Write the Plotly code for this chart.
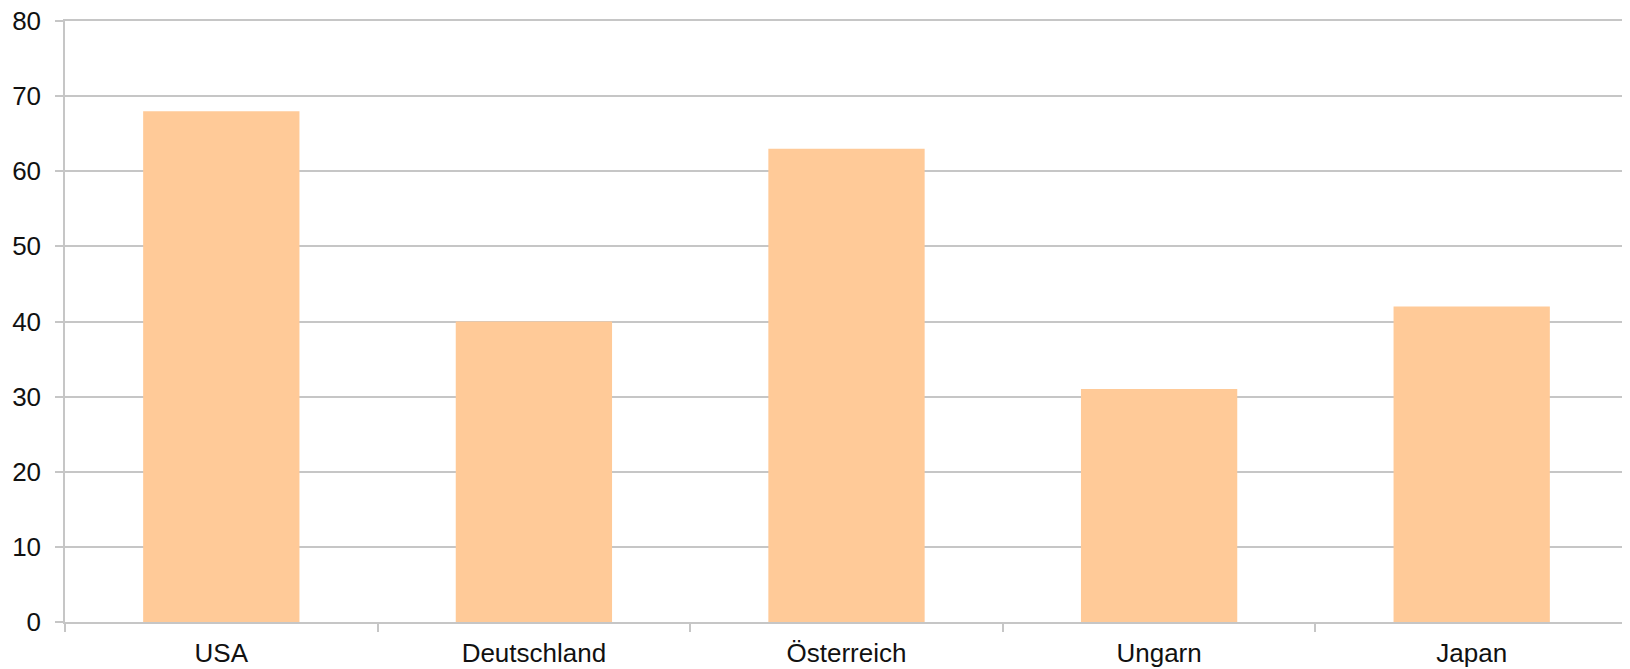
import plotly.graph_objects as go

categories = ["USA", "Deutschland", "Österreich", "Ungarn", "Japan"]
values = [68, 40, 63, 31, 42]
y_ticks = [0, 10, 20, 30, 40, 50, 60, 70, 80]

fig = go.Figure(go.Bar(
    x=categories, y=values,
    marker=dict(color="#FFCA98", line=dict(width=0)),
    width=0.5,
))

grid = "#C6C6C6"
# the page body has an 8px margin, so the figure is offset by 8px
fig.update_layout(
    width=1622, height=661,
    margin=dict(l=57, r=2, t=13, b=47),
    paper_bgcolor="white", plot_bgcolor="white",
    font=dict(family="Liberation Sans, Arial, sans-serif", size=26, color="#111111"),
    showlegend=False,
    xaxis=dict(
        showgrid=False, showline=True, linecolor=grid, linewidth=1.5, mirror=True,
        ticks="outside", tickson="boundaries", ticklen=8, tickcolor=grid, tickwidth=1.5,
        ticklabelstandoff=7, automargin=False, tickfont=dict(size=26),
    ),
    yaxis=dict(
        range=[0, 80], tickvals=y_ticks, showgrid=True, gridcolor=grid, gridwidth=1.5,
        showline=True, linecolor=grid, linewidth=1.5, mirror=True,
        ticks="outside", ticklen=8, tickcolor=grid, tickwidth=1.5,
        zeroline=False, ticklabelstandoff=9, automargin=False, tickfont=dict(size=26),
        ticklabeloverflow="allow",
    ),
)

fig.write_html("out.html")
